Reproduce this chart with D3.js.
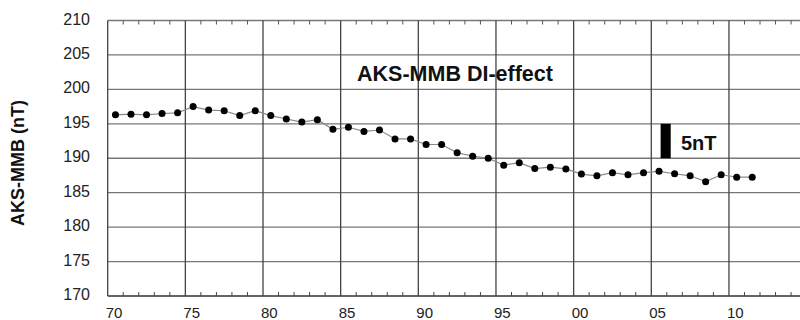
<!DOCTYPE html>
<html>
<head>
<meta charset="utf-8">
<script src="https://cdn.jsdelivr.net/npm/d3@7"></script>
<style>
body { margin: 0; background: #fff; }
svg { display: block; font-family: Arial, "Liberation Sans", sans-serif; }
</style>
</head>
<body>
<svg id="chart"></svg>
<script>
// annual values, plotted at mid year
var years = d3.range(1970, 2012);
var values = [
    196.3, 196.4, 196.3, 196.5, 196.6, 197.5, 197.0, 196.9, 196.2, 196.9,
    196.2, 195.7, 195.25, 195.6, 194.2, 194.5, 193.9, 194.1, 192.8, 192.8,
    192.0, 192.0, 190.8, 190.3, 190.0, 189.0, 189.35, 188.5, 188.7, 188.45,
    187.7, 187.45, 187.9, 187.6, 187.9, 188.1, 187.75, 187.45, 186.6, 187.6,
    187.25, 187.25
];
var yTicks = [170, 175, 180, 185, 190, 195, 200, 205, 210];
var xTicks = [1970, 1975, 1980, 1985, 1990, 1995, 2000, 2005, 2010];
var scaleBar = [190, 195];   // 5nT
var title = "AKS-MMB DI-effect";
var yTitle = "AKS-MMB (nT)";

var width = 800;
var height = 320;

var svg = d3.select("#chart")
    .attr("width", width)
    .attr("height", height)

var xScale = d3.scaleLinear()
    .domain([1970, 2015])
    .range([107.7, 806.6])

var yScale = d3.scaleLinear()
    .domain([170, 210])
    .range([296, 20.5])

// horizontal grid
svg.selectAll(".hgrid")
    .data(yTicks)
    .enter()
    .append("line")
    .attr("x1", xScale(1970))
    .attr("x2", width)
    .attr("y1", function(d){ return yScale(d) })
    .attr("y2", function(d){ return yScale(d) })
    .attr("stroke", function(d){ return d == 170 ? "#333" : "#777" })
    .attr("stroke-width", 1.3)

// vertical grid
svg.selectAll(".vgrid")
    .data(xTicks)
    .enter()
    .append("line")
    .attr("x1", function(d){ return xScale(d) })
    .attr("x2", function(d){ return xScale(d) })
    .attr("y1", yScale(210))
    .attr("y2", yScale(170))
    .attr("stroke", "#444")
    .attr("stroke-width", 1.3)

// minor ticks each year, top and bottom
var minor = d3.range(1970, 2015).filter(function(d){ return d % 5 != 0 });
svg.selectAll(".mbot")
    .data(minor)
    .enter()
    .append("line")
    .attr("x1", function(d){ return xScale(d) })
    .attr("x2", function(d){ return xScale(d) })
    .attr("y1", yScale(170))
    .attr("y2", yScale(170) - 4)
    .attr("stroke", "#444")
svg.selectAll(".mtop")
    .data(minor)
    .enter()
    .append("line")
    .attr("x1", function(d){ return xScale(d) })
    .attr("x2", function(d){ return xScale(d) })
    .attr("y1", yScale(210))
    .attr("y2", yScale(210) + 4)
    .attr("stroke", "#555")

// y tick labels
svg.selectAll(".ylab")
    .data(yTicks)
    .enter()
    .append("text")
    .attr("x", 90)
    .attr("y", function(d){ return yScale(d) + 4 })
    .attr("text-anchor", "end")
    .attr("font-size", 16)
    .attr("fill", "#222")
    .text(function(d){ return d })

// x tick labels
svg.selectAll(".xlab")
    .data(xTicks)
    .enter()
    .append("text")
    .attr("x", function(d){ return xScale(d) - 2 })
    .attr("y", 318)
    .attr("font-size", 15)
    .attr("fill", "#222")
    .text(function(d){ return d3.format("02d")(d % 100) })

svg.append("text")
    .attr("transform", "translate(24,163) rotate(-90)")
    .attr("text-anchor", "middle")
    .attr("font-size", 18)
    .attr("font-weight", "bold")
    .attr("fill", "#111")
    .text(yTitle)

var pts = years.map(function(y, i){ return [y + 0.5, values[i]] });

var line = d3.line()
    .x(function(d){ return xScale(d[0]) })
    .y(function(d){ return yScale(d[1]) })

svg.append("path")
    .datum(pts)
    .attr("d", line)
    .attr("fill", "none")
    .attr("stroke", "#888")
    .attr("stroke-width", 1.2)

svg.selectAll("circle")
    .data(pts)
    .enter()
    .append("circle")
    .attr("cx", function(d){ return xScale(d[0]) })
    .attr("cy", function(d){ return yScale(d[1]) })
    .attr("r", 3.5)
    .attr("fill", "#000")

svg.append("text")
    .attr("x", 455)
    .attr("y", 81)
    .attr("text-anchor", "middle")
    .attr("font-size", 21.5)
    .attr("font-weight", "bold")
    .attr("fill", "#111")
    .text(title)

// 5 nT scale bar
svg.append("rect")
    .attr("x", xScale(2005.6))
    .attr("y", yScale(scaleBar[1]))
    .attr("width", xScale(2006.25) - xScale(2005.6))
    .attr("height", yScale(scaleBar[0]) - yScale(scaleBar[1]))
    .attr("fill", "#000")
svg.append("text")
    .attr("x", 681)
    .attr("y", 150)
    .attr("font-size", 20)
    .attr("font-weight", "bold")
    .attr("fill", "#111")
    .text("5nT")
</script>
</body>
</html>
